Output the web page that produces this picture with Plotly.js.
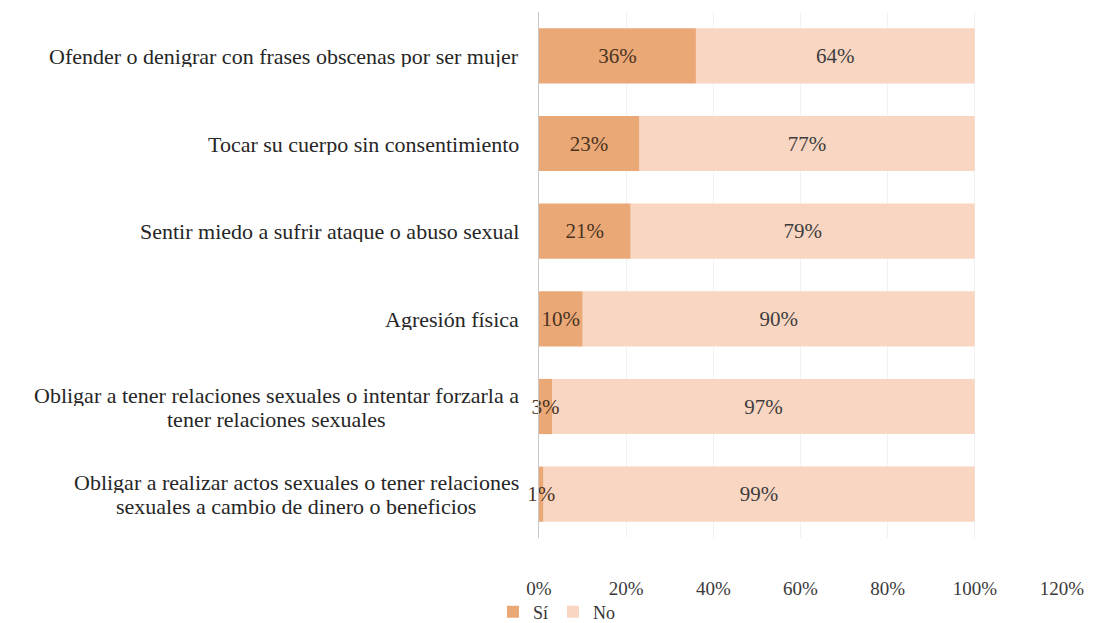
<!DOCTYPE html>
<html>
<head>
<meta charset="utf-8">
<script src="https://cdn.plot.ly/plotly-3.0.1.min.js"></script>
<style>html,body{margin:0;padding:0;background:#fff;}#chart{width:1093px;height:623px;}</style>
</head>
<body>
<div id="chart"></div>
<script>
const categories = [
  "Ofender o denigrar con frases obscenas por ser mujer",
  "Tocar su cuerpo sin consentimiento",
  "Sentir miedo a sufrir ataque o abuso sexual",
  "Agresión física",
  "Obligar a tener relaciones sexuales o intentar forzarla a<br>tener relaciones sexuales",
  "Obligar a realizar actos sexuales o tener relaciones<br>sexuales a cambio de dinero o beneficios"
];
const siValues = [0.36, 0.23, 0.21, 0.10, 0.03, 0.01];
const noValues = [0.64, 0.77, 0.79, 0.90, 0.97, 0.99];
const xTickValues = [0, 0.2, 0.4, 0.6, 0.8, 1.0, 1.2];
const xTickLabels = ["0%", "20%", "40%", "60%", "80%", "100%", "120%"];
const seriesNames = ["Sí", "No"];

const FONT = "Liberation Serif, Times New Roman, serif";
const LABEL_SIZE = 22;
const LINE_GAP = 24;

// "No" stacked after "Sí" via base; drawn first so the Sí labels sit on top
const traces = [
  {
    type: 'bar', orientation: 'h', name: seriesNames[1],
    y: categories, x: noValues, base: siValues,
    marker: {color: '#F9D6C2'},
    texttemplate: '%{x:.0%}', textposition: 'inside', insidetextanchor: 'middle', textangle: 0,
    textfont: {family: FONT, size: 21, color: '#3d3d3d'},
    constraintext: 'none', cliponaxis: false, hoverinfo: 'skip'
  },
  {
    type: 'bar', orientation: 'h', name: seriesNames[0],
    y: categories, x: siValues, base: 0,
    marker: {color: '#EBA877'},
    texttemplate: '%{x:.0%}', textposition: 'inside', insidetextanchor: 'middle', textangle: 0,
    textfont: {family: FONT, size: 21, color: '#4a3322'},
    constraintext: 'none', cliponaxis: false, hoverinfo: 'skip'
  }
];

const annotations = [];
categories.forEach(c => {
  const lines = c.split('<br>');
  const n = lines.length;
  const widest = lines.reduce((a, b) => (b.length > a.length ? b : a));
  lines.forEach((ln, i) => {
    annotations.push({
      x: 0, y: c, xref: 'x', yref: 'y',
      text: ln, showarrow: false, xanchor: 'center', yanchor: 'middle',
      height: 22, borderpad: 0,
      xshift: 0, yshift: ((n - 1) / 2 - i) * LINE_GAP,
      font: {family: FONT, size: LABEL_SIZE, color: '#262626'},
      _widest: widest
    });
  });
});

const layout = {
  width: 1093, height: 623,
  margin: {l: 539, r: 31, t: 12, b: 85, autoexpand: false},
  barmode: 'overlay', bargap: 0.37,
  paper_bgcolor: '#fff', plot_bgcolor: '#fff',
  font: {family: FONT, size: 19, color: '#333'},
  uniformtext: {minsize: 19, mode: 'show'},
  xaxis: {
    range: [0, 1.2], tickvals: xTickValues, ticktext: xTickLabels,
    showgrid: true, gridcolor: '#f2f2f2', zeroline: false,
    showline: false, ticks: '', ticklabelstandoff: 37,
    tickfont: {family: FONT, size: 19, color: '#3a3a3a'}
  },
  yaxis: {
    type: 'category', autorange: 'reversed', showticklabels: false,
    showline: true, linecolor: '#c8c8c8', linewidth: 1.5,
    showgrid: false, zeroline: false, ticks: ''
  },
  showlegend: true,
  legend: {
    orientation: 'h', x: -0.088, xanchor: 'left', y: -0.141, yanchor: 'middle',
    bgcolor: 'rgba(0,0,0,0)',
    font: {family: FONT, size: 18, color: '#333'},
    itemwidth: 30, tracegroupgap: 0, traceorder: 'reversed'
  },
  annotations: []
};

// Measure text widths to center multi-line labels and right-align blocks at the axis
const canvas = document.createElement('canvas');
const ctx = canvas.getContext('2d');
ctx.font = LABEL_SIZE + 'px "Liberation Serif", "Times New Roman", serif';
layout.annotations = annotations.map(a => {
  const w = ctx.measureText(a._widest).width;
  const out = Object.assign({}, a);
  delete out._widest;
  out.xshift = -20 - w / 2;
  return out;
});

Plotly.newPlot('chart', traces, layout, {displayModeBar: false, staticPlot: true});
</script>
</body>
</html>
